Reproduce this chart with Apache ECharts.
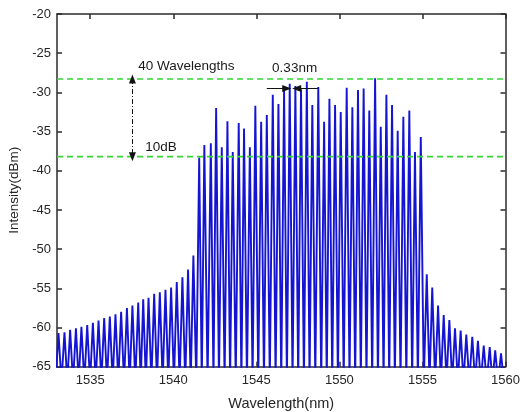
<!DOCTYPE html>
<html>
<head>
<meta charset="utf-8">
<script src="https://cdn.jsdelivr.net/npm/echarts@6/dist/echarts.min.js"></script>
<style>
  html, body { margin: 0; padding: 0; background: #ffffff; }
  #chart { width: 520px; height: 412px; }
</style>
</head>
<body>
<div id="chart"></div>
<script>
// Comb spectrum: peak wavelength (nm) and peak power (dBm) of every line
const peakWavelengths = [
  1533.09, 1533.45, 1533.79, 1534.14, 1534.47, 1534.82, 1535.16, 1535.50, 1535.84, 1536.18,
  1536.52, 1536.86, 1537.21, 1537.54, 1537.89, 1538.19, 1538.51, 1538.85, 1539.19, 1539.53,
  1539.87, 1540.21, 1540.55, 1540.89, 1541.21, 1541.56, 1541.87, 1542.26, 1542.58, 1542.92,
  1543.26, 1543.58, 1543.94, 1544.26, 1544.61, 1544.94, 1545.29, 1545.63, 1545.99, 1546.33,
  1546.67, 1547.01, 1547.35, 1547.69, 1548.04, 1548.37, 1548.73, 1549.08, 1549.40, 1549.74,
  1550.08, 1550.44, 1550.78, 1551.12, 1551.46, 1551.80, 1552.15, 1552.49, 1552.83, 1553.17,
  1553.51, 1553.85, 1554.21, 1554.55, 1554.90, 1555.26, 1555.59, 1555.94, 1556.28, 1556.62,
  1556.96, 1557.30, 1557.64, 1558.00, 1558.34, 1558.69, 1559.05, 1559.38, 1559.73
];
const peakPowers = [
  -60.7, -60.6, -60.3, -60.1, -59.9, -59.7, -59.4, -59.1, -58.8, -58.6,
  -58.3, -58.0, -57.5, -57.2, -56.8, -56.4, -56.2, -55.7, -55.5, -55.2,
  -54.9, -54.2, -53.6, -52.6, -50.8, -38.3, -36.7, -36.5, -32.0, -37.0,
  -33.7, -37.6, -33.9, -34.6, -37.0, -31.7, -33.75, -32.9, -30.3, -31.5,
  -29.7, -28.9, -29.2, -29.6, -28.65, -31.6, -29.3, -33.75, -30.8, -31.6,
  -32.5, -29.4, -31.9, -29.7, -29.5, -32.3, -28.2, -34.4, -30.3, -31.6,
  -34.9, -33.1, -32.3, -37.6, -35.7, -53.2, -54.9, -57.2, -58.4, -59.05,
  -60.1, -60.4, -60.9, -61.2, -61.7, -62.3, -62.5, -62.9, -63.3
];
// Noise floor between comb lines (below the visible range)
const noiseFloor = -67;

const xTicks = [1535, 1540, 1545, 1550, 1555, 1560];
const yTicks = [-65, -60, -55, -50, -45, -40, -35, -30, -25, -20];

// Flatness reference levels (dBm)
const upperLevel = -28.3;
const lowerLevel = -38.2;

// Annotation anchors in data space
const flatnessArrowX = 1537.54;
const spacingArrowY = -29.5;
const spacingLeftArrow = [1545.63, 1546.83];
const spacingRightArrow = [1548.72, 1547.43];
const annotations = [
  { text: '40 Wavelengths', at: [1537.89, -26.65] },
  { text: '10dB', at: [1538.31, -37.04] },
  { text: '0.33nm', at: [1545.95, -26.9] }
];

// Triangular line shape: each peak rises from the valley midway to its neighbours
const spectrum = [];
for (let i = 0; i < peakWavelengths.length; i++) {
  const w = peakWavelengths[i];
  const prev = i > 0 ? peakWavelengths[i - 1] : w - (peakWavelengths[1] - peakWavelengths[0]);
  spectrum.push([(prev + w) / 2, noiseFloor]);
  spectrum.push([w, peakPowers[i]]);
}
const n = peakWavelengths.length;
const lastGap = peakWavelengths[n - 1] - peakWavelengths[n - 2];
spectrum.push([peakWavelengths[n - 1] + lastGap / 2, noiseFloor]);

const FONT = 'Arial, "Liberation Sans", sans-serif';
const axisColor = '#2b2b2b';
const textColor = '#262626';
const plain = v => String(v);

const chart = echarts.init(document.getElementById('chart'), null, { renderer: 'canvas' });

const frameX = (position, show) => ({
  type: 'value', position, min: 1533, max: 1560,
  axisLine: { show: true, onZero: false, lineStyle: { color: axisColor, width: 1.5 } },
  axisTick: { show: true, inside: true, length: 5, customValues: xTicks, lineStyle: { color: axisColor, width: 1.5 } },
  axisLabel: { show, customValues: xTicks, formatter: plain, color: textColor, fontSize: 13, fontFamily: FONT, margin: 7 },
  splitLine: { show: false }
});
const frameY = (position, show) => ({
  type: 'value', position, min: -65, max: -20, interval: 5,
  axisLine: { show: true, onZero: false, lineStyle: { color: axisColor, width: 1.5 } },
  axisTick: { show: true, inside: true, length: 5, customValues: yTicks, lineStyle: { color: axisColor, width: 1.5 } },
  axisLabel: { show, customValues: yTicks, formatter: plain, color: textColor, fontSize: 13, fontFamily: FONT, margin: 6 },
  splitLine: { show: false }
});

const xBottom = Object.assign(frameX('bottom', true), {
  name: 'Wavelength(nm)', nameLocation: 'middle', nameGap: 30,
  nameTextStyle: { color: textColor, fontSize: 14.5, fontFamily: FONT }
});
const yLeft = Object.assign(frameY('left', true), {
  name: 'Intensity(dBm)', nameLocation: 'middle', nameGap: 28,
  nameTextStyle: { color: textColor, fontSize: 13.5, fontFamily: FONT }
});

const arrowStyle = { color: '#111111', width: 1, type: 'solid' };

chart.setOption({
  animation: false,
  backgroundColor: '#ffffff',
  grid: { left: 57, right: 14.5, top: 14, bottom: 45.3, containLabel: false, outerBoundsMode: 'none' },
  xAxis: [xBottom, frameX('top', false)],
  yAxis: [yLeft, frameY('right', false)],
  series: [
    {
      type: 'line', name: 'spectrum', data: spectrum, showSymbol: false, symbol: 'none',
      clip: true, lineStyle: { color: '#1414d2', width: 1.9 }, z: 2
    },
    {
      type: 'line', name: 'upper level', data: [[1533, upperLevel], [1560, upperLevel]],
      showSymbol: false, symbol: 'none', clip: true,
      lineStyle: { color: '#36d636', width: 1.6, type: [6, 4] }, z: 3
    },
    {
      type: 'line', name: 'lower level', data: [[1533, lowerLevel], [1560, lowerLevel]],
      showSymbol: false, symbol: 'none', clip: true,
      lineStyle: { color: '#36d636', width: 1.6, type: [6, 4] }, z: 3,
      markLine: {
        silent: true, animation: false, label: { show: false },
        emphasis: { disabled: true },
        data: [
          [
            { coord: [flatnessArrowX, upperLevel], symbol: 'triangle', symbolSize: [7, 9],
              lineStyle: { color: '#111111', width: 1, type: [5, 2, 1, 2] } },
            { coord: [flatnessArrowX, lowerLevel], symbol: 'triangle', symbolSize: [7, 9] }
          ],
          [
            { coord: [spacingLeftArrow[0], spacingArrowY], symbol: 'none', lineStyle: arrowStyle },
            { coord: [spacingLeftArrow[1], spacingArrowY], symbol: 'triangle', symbolSize: [7, 9] }
          ],
          [
            { coord: [spacingRightArrow[0], spacingArrowY], symbol: 'none', lineStyle: arrowStyle },
            { coord: [spacingRightArrow[1], spacingArrowY], symbol: 'triangle', symbolSize: [7, 9] }
          ]
        ],
        lineStyle: { color: '#111111', width: 1 },
        itemStyle: { color: '#111111' }
      }
    }
  ]
});

// Text annotations placed at their data-space anchors
chart.setOption({
  graphic: annotations.map(a => {
    const p = chart.convertToPixel({ xAxisIndex: 0, yAxisIndex: 0 }, a.at);
    return {
      type: 'text', x: p[0], y: p[1], z: 10,
      style: { text: a.text, fill: '#1a1a1a', font: '13.5px ' + FONT, textAlign: 'left', textVerticalAlign: 'middle' }
    };
  })
});
</script>
</body>
</html>
